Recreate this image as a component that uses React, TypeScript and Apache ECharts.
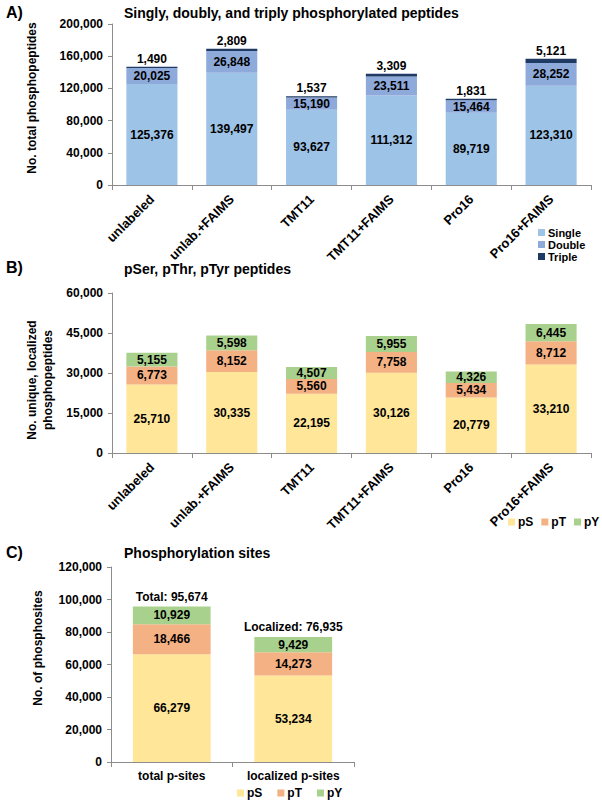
import React, { useEffect, useRef } from "react";
import * as echarts from "echarts";

const categories = ["unlabeled", "unlab.+FAIMS", "TMT11", "TMT11+FAIMS", "Pro16", "Pro16+FAIMS"];
const singleVals = [125376, 139497, 93627, 111312, 89719, 123310];
const doubleVals = [20025, 26848, 15190, 23511, 15464, 28252];
const tripleVals = [1490, 2809, 1537, 3309, 1831, 5121];

const pSVals = [25710, 30335, 22195, 30126, 20779, 33210];
const pTVals = [6773, 8152, 5560, 7758, 5434, 8712];
const pYVals = [5155, 5598, 4507, 5955, 4326, 6445];

const siteCats = ["total p-sites", "localized p-sites"];
const sitePS = [66279, 53234];
const sitePT = [18466, 14273];
const sitePY = [10929, 9429];
const siteTotals = [95674, 76935];
const siteTotalPrefix = ["Total", "Localized"];

const aAxis = { max: 200000, interval: 40000 };
const bAxis = { max: 60000, interval: 15000 };
const cAxis = { max: 120000, interval: 20000 };

const FONT = "'Liberation Sans', Arial, sans-serif";
const fmt = (v: number) => v.toLocaleString("en-US");

const COLORS = {
  single: "#9dc3e6",
  double: "#8eaadb",
  triple: "#1f3b63",
  pS: "#ffe699",
  pT: "#f4b183",
  pY: "#a9d18e",
};

const axisGray = "#8c8c8c";

export default function App() {
  const ref = useRef<HTMLDivElement>(null);
  useEffect(() => {
    if (!ref.current) return;
    const chart = echarts.init(ref.current, undefined, { renderer: "svg" });
    const txt = { color: "#000", fontWeight: "bold" as const, fontFamily: FONT, fontSize: 12 };

    const xCat = (gridIndex: number, data: string[], rotate: number) => ({
      type: "category" as const,
      gridIndex,
      data,
      axisLine: { lineStyle: { color: axisGray } },
      axisTick: { show: true, alignWithLabel: false, length: 5, lineStyle: { color: axisGray } },
      axisLabel: { ...txt, fontSize: rotate ? 13 : 12, rotate, interval: 0, margin: rotate ? 12 : 8 },
    });
    const yVal = (gridIndex: number, ax: { max: number; interval: number }) => ({
      type: "value" as const,
      gridIndex,
      min: 0,
      max: ax.max,
      interval: ax.interval,
      splitLine: { show: false },
      axisLine: { show: true, lineStyle: { color: axisGray } },
      axisTick: { show: true, length: 4, lineStyle: { color: axisGray } },
      axisLabel: { ...txt, formatter: (v: number) => fmt(v), margin: 9 },
    });

    const inside = { show: true, position: "inside" as const, ...txt, formatter: (p: any) => fmt(p.value) };
    const barBase = (name: string, xi: number, data: number[], color: string, stack: string, label: any) => ({
      type: "bar" as const,
      name,
      xAxisIndex: xi,
      yAxisIndex: xi,
      stack,
      data,
      barWidth: "64%",
      itemStyle: { color },
      label,
    });

    const legendText = { ...txt, fontSize: 12, lineHeight: 12, padding: [0, 0, 0, -2] };

    const option: any = {
      animation: false,
      textStyle: { fontFamily: FONT },
      title: [
        { text: "A)", left: 6, top: 4, padding: 0, textStyle: { ...txt, fontSize: 16 } },
        { text: "Singly, doubly, and triply phosphorylated peptides", left: 124, top: 6, padding: 0, textStyle: { ...txt, fontSize: 14 } },
        { text: "B)", left: 6, top: 259, padding: 0, textStyle: { ...txt, fontSize: 16 } },
        { text: "pSer, pThr, pTyr peptides", left: 124, top: 262, padding: 0, textStyle: { ...txt, fontSize: 14 } },
        { text: "C)", left: 6, top: 544, padding: 0, textStyle: { ...txt, fontSize: 16 } },
        { text: "Phosphorylation sites", left: 124, top: 546, padding: 0, textStyle: { ...txt, fontSize: 14 } },
      ],
      grid: [
        { left: 112, width: 479, top: 24, height: 161 },
        { left: 112, width: 479, top: 293, height: 160 },
        { left: 111, width: 243, top: 567, height: 195 },
      ],
      xAxis: [xCat(0, categories, 45), xCat(1, categories, 45), xCat(2, siteCats, 0)],
      yAxis: [yVal(0, aAxis), yVal(1, bAxis), yVal(2, cAxis)],
      legend: [
        {
          data: ["Single", "Double", "Triple"],
          orient: "vertical",
          left: 538,
          top: 227,
          itemGap: 1,
          itemWidth: 7,
          itemHeight: 7,
          icon: "rect",
          padding: 0,
          textStyle: { ...legendText, fontSize: 11, lineHeight: 11 },
        },
        {
          data: ["pS", "pT", "pY"],
          orient: "horizontal",
          left: 508,
          top: 516,
          itemGap: 8,
          itemWidth: 7,
          itemHeight: 7,
          icon: "rect",
          padding: 0,
          textStyle: legendText,
        },
        {
          data: ["pS", "pT", "pY"],
          orient: "horizontal",
          left: 237,
          top: 787,
          itemGap: 15,
          itemWidth: 7,
          itemHeight: 7,
          icon: "rect",
          padding: 0,
          textStyle: legendText,
        },
      ],
      graphic: [
        {
          type: "text",
          x: 32,
          y: 98,
          rotation: Math.PI / 2,
          style: { text: "No. total phosphopeptides", fill: "#000", textAlign: "center", textVerticalAlign: "middle", font: `bold 12px ${FONT}` },
        },
        {
          type: "text",
          x: 40,
          y: 380,
          rotation: Math.PI / 2,
          style: {
            text: "No. unique, localized\nphosphopeptides",
            fill: "#000",
            textAlign: "center",
            textVerticalAlign: "middle",
            font: `bold 12px ${FONT}`,
            lineHeight: 16,
          },
        },
        {
          type: "text",
          x: 38,
          y: 648,
          rotation: Math.PI / 2,
          style: { text: "No. of phosphosites", fill: "#000", textAlign: "center", textVerticalAlign: "middle", font: `bold 12px ${FONT}` },
        },
      ],
      series: [
        barBase("Single", 0, singleVals, COLORS.single, "a", inside),
        barBase("Double", 0, doubleVals, COLORS.double, "a", inside),
        barBase("Triple", 0, tripleVals, COLORS.triple, "a", {
          show: true,
          position: "top",
          distance: 2,
          ...txt,
          formatter: (p: any) => fmt(p.value),
        }),
        barBase("pS", 1, pSVals, COLORS.pS, "b", inside),
        barBase("pT", 1, pTVals, COLORS.pT, "b", inside),
        barBase("pY", 1, pYVals, COLORS.pY, "b", inside),
        barBase("pS", 2, sitePS, COLORS.pS, "c", inside),
        barBase("pT", 2, sitePT, COLORS.pT, "c", inside),
        barBase("pY", 2, sitePY, COLORS.pY, "c", inside),
        {
          type: "scatter",
          name: "totals",
          xAxisIndex: 2,
          yAxisIndex: 2,
          data: siteTotals,
          symbolSize: 0,
          itemStyle: { color: "#000", opacity: 1 },
          label: {
            show: true,
            position: "top",
            distance: 4,
            opacity: 1,
            ...txt,
            formatter: (p: any) => `${siteTotalPrefix[p.dataIndex]}: ${fmt(p.value)}`,
          },
        },
      ],
    };
    chart.setOption(option);
    return () => chart.dispose();
  }, []);
  return <div ref={ref} style={{ position: "fixed", left: 0, top: 0, width: 602, height: 805, background: "#fff" }} />;
}
